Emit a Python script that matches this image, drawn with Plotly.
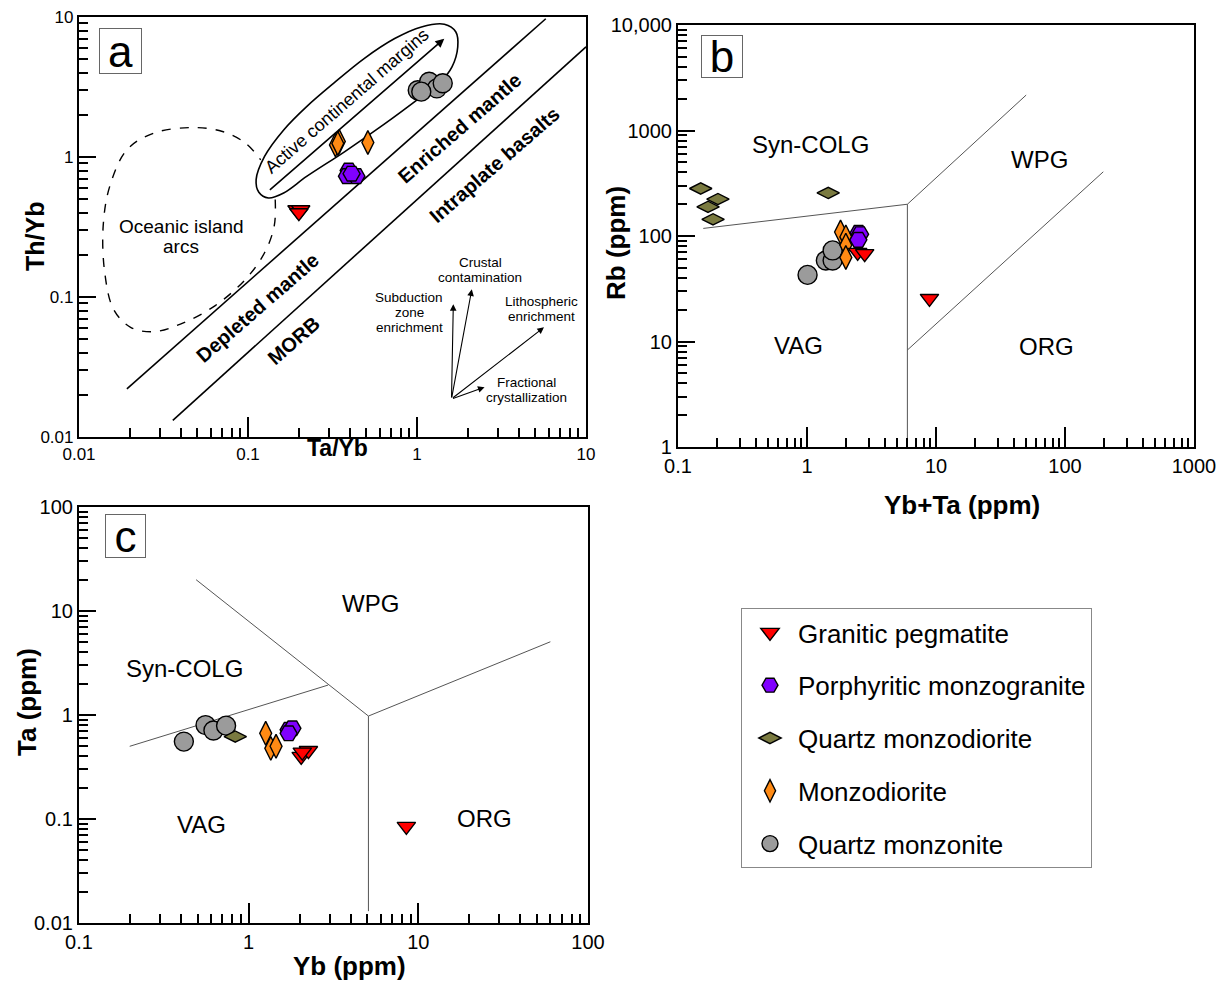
import numpy as np
import plotly.graph_objects as go

W, H = 1224, 989
OX, OY = 8, 8  # page body margin offset of the rendered figure
FONT = "Liberation Sans, Arial, sans-serif"

# ---------------- categories / styles ----------------
groups = ["Granitic pegmatite", "Porphyritic monzogranite", "Quartz monzodiorite",
          "Monzodiorite", "Quartz monzonite"]
colors = ["#FF0000", "#8000FF", "#7A7A40", "#FF8A14", "#9B9B9B"]
symbols = ["triangle-down", "hexagon2", "diamond-wide", "diamond-tall", "circle"]
sizes = [16, 17, 16, 17, 19]

# ---------------- panel a : Ta/Yb vs Th/Yb ----------------
a_tayb_pegmatite = [0.195, 0.205, 0.200]
a_thyb_pegmatite = [0.42, 0.42, 0.40]
a_tayb_porphyritic = [0.394, 0.385, 0.438, 0.41]
a_thyb_porphyritic = [0.80, 0.73, 0.73, 0.76]
a_tayb_qmonzodiorite = []
a_thyb_qmonzodiorite = []
a_tayb_monzodiorite = [0.329, 0.347, 0.512, 0.34]
a_thyb_monzodiorite = [1.22, 1.29, 1.27, 1.25]
a_tayb_qmonzonite = [1.01, 1.18, 1.31, 1.42, 1.06]
a_thyb_qmonzonite = [3.0, 3.45, 3.09, 3.36, 2.93]

# MORB-OIB array boundaries
a_upper_x = [0.0192, 5.78]
a_upper_y = [0.0221, 9.72]
a_lower_x = [0.0359, 10.0]
a_lower_y = [0.01315, 6.12]
# oceanic island arc field (dashed)
a_oia_x = [0.1449, 0.1429, 0.1253, 0.0966, 0.0637, 0.0398, 0.0276, 0.0202, 0.0160,
           0.0142, 0.0139, 0.0152, 0.0192, 0.0276, 0.0466, 0.0706, 0.0966, 0.1189]
a_oia_y = [0.4966, 0.3206, 0.2070, 0.1337, 0.0865, 0.0640, 0.0565, 0.0607, 0.0818,
           0.1493, 0.3206, 0.6166, 1.125, 1.479, 1.622, 1.521, 1.256, 0.955]
# active continental margin field
a_acm_x = [0.1117, 0.1253, 0.1626, 0.2223, 0.3206, 0.4864, 0.7379, 1.062, 1.452, 1.698,
           1.742, 1.611, 1.377, 1.062, 0.631, 0.374, 0.2223, 0.1626, 0.1321, 0.1159, 0.1117]
a_acm_y = [0.6887, 1.009, 1.560, 2.291, 3.357, 5.047, 7.015, 8.492, 8.872, 7.816,
           6.109, 4.406, 3.443, 2.698, 1.694, 1.094, 0.7261, 0.5534, 0.5093, 0.5598, 0.6887]
a_acm_arrow_x = [0.132, 1.45]
a_acm_arrow_y = [0.569, 7.0]
# process vectors
vec_origin = (1.6, 0.0187)
vec_names = [["Subduction", "zone", "enrichment"], ["Crustal", "contamination"],
             ["Lithospheric", "enrichment"], ["Fractional", "crystallization"]]
vec_head_x = [1.64, 2.11, 5.64, 2.51]
vec_head_y = [0.0889, 0.1135, 0.0607, 0.0227]
vec_label_x = [0.90, 2.36, 5.43, 4.46]
vec_label_y = [0.0774, 0.156, 0.0818, 0.0218]

# ---------------- panel b : Yb+Ta vs Rb ----------------
b_ybta_pegmatite = [2.47, 2.8, 8.9]
b_rb_pegmatite = [70, 68, 25.6]
b_ybta_porphyritic = [2.51, 2.58, 2.5]
b_rb_porphyritic = [107, 104, 92]
b_ybta_qmonzodiorite = [0.15, 0.204, 0.171, 0.187, 1.46]
b_rb_qmonzodiorite = [282, 224, 189, 144, 256]
b_ybta_monzodiorite = [1.82, 2.0, 2.0, 2.0]
b_rb_monzodiorite = [109, 98, 82, 62.5]
b_ybta_qmonzonite = [1.01, 1.40, 1.58, 1.58]
b_rb_qmonzonite = [42.8, 58.5, 58.5, 73]

b_bounds = [
    ([0.157, 6.0], [118, 200]),
    ([6.0, 6.0], [200, 1.0]),
    ([6.0, 50.0], [200, 2168]),
    ([6.0, 198.0], [8.3, 406]),
]

# ---------------- panel c : Yb vs Ta ----------------
c_yb_pegmatite = [2.04, 2.25, 2.07, 8.5]
c_ta_pegmatite = [0.40, 0.455, 0.44, 0.085]
c_yb_porphyritic = [1.72, 1.81, 1.72]
c_ta_porphyritic = [0.72, 0.745, 0.667]
c_yb_qmonzodiorite = [0.834]
c_ta_qmonzodiorite = [0.62]
c_yb_monzodiorite = [1.26, 1.35, 1.45]
c_ta_monzodiorite = [0.667, 0.478, 0.50]
c_yb_qmonzonite = [0.415, 0.557, 0.62, 0.736]
c_ta_qmonzonite = [0.555, 0.80, 0.71, 0.79]

c_bounds = [
    ([0.199, 2.94], [0.50, 1.94]),
    ([0.49, 5.08], [20, 0.977]),
    ([5.08, 60.0], [0.977, 5.06]),
    ([5.08, 5.08], [0.977, 0.013]),
]

# ---------------- build figure ----------------
fig = go.Figure()

panel_a = [(a_tayb_pegmatite, a_thyb_pegmatite), (a_tayb_porphyritic, a_thyb_porphyritic),
           (a_tayb_qmonzodiorite, a_thyb_qmonzodiorite), (a_tayb_monzodiorite, a_thyb_monzodiorite),
           (a_tayb_qmonzonite, a_thyb_qmonzonite)]
panel_b = [(b_ybta_pegmatite, b_rb_pegmatite), (b_ybta_porphyritic, b_rb_porphyritic),
           (b_ybta_qmonzodiorite, b_rb_qmonzodiorite), (b_ybta_monzodiorite, b_rb_monzodiorite),
           (b_ybta_qmonzonite, b_rb_qmonzonite)]
panel_c = [(c_yb_pegmatite, c_ta_pegmatite), (c_yb_porphyritic, c_ta_porphyritic),
           (c_yb_qmonzodiorite, c_ta_qmonzodiorite), (c_yb_monzodiorite, c_ta_monzodiorite),
           (c_yb_qmonzonite, c_ta_qmonzonite)]

line_a = dict(color="black", width=1.6)
line_bc = dict(color="#555555", width=1)

# panel a lines
fig.add_trace(go.Scatter(x=a_upper_x, y=a_upper_y, mode="lines", line=line_a,
                         showlegend=False, hoverinfo="skip", xaxis="x", yaxis="y"))
fig.add_trace(go.Scatter(x=a_lower_x, y=a_lower_y, mode="lines", line=line_a,
                         showlegend=False, hoverinfo="skip", xaxis="x", yaxis="y"))
fig.add_trace(go.Scatter(x=a_oia_x, y=a_oia_y, mode="lines",
                         line=dict(color="black", width=1.4, dash="dash", shape="spline"),
                         showlegend=False, hoverinfo="skip", xaxis="x", yaxis="y"))
fig.add_trace(go.Scatter(x=a_acm_x, y=a_acm_y, mode="lines",
                         line=dict(color="black", width=1.6, shape="spline", smoothing=1.0),
                         showlegend=False, hoverinfo="skip", xaxis="x", yaxis="y"))

for xs, ys in b_bounds:
    fig.add_trace(go.Scatter(x=xs, y=ys, mode="lines", line=line_bc, showlegend=False,
                             hoverinfo="skip", xaxis="x2", yaxis="y2"))
for xs, ys in c_bounds:
    fig.add_trace(go.Scatter(x=xs, y=ys, mode="lines", line=line_bc, showlegend=False,
                             hoverinfo="skip", xaxis="x3", yaxis="y3"))

# draw order: circles first, then diamonds, hexagons, triangles on top
order = [4, 2, 3, 1, 0]
for (panel, xa, ya, leg) in [(panel_a, "x", "y", False), (panel_b, "x2", "y2", False),
                             (panel_c, "x3", "y3", True)]:
    for i in order:
        xs, ys = panel[i]
        fig.add_trace(go.Scatter(
            x=xs, y=ys, mode="markers", name=groups[i],
            marker=dict(symbol=symbols[i], size=sizes[i], color=colors[i],
                        line=dict(color="black", width=1.4)),
            showlegend=leg, legendgroup=groups[i], legendrank=i + 1,
            xaxis=xa, yaxis=ya))


def px_x(p):
    return (p - OX) / W


def px_y(p):
    return 1 - (p - OY) / H


def dom_x(p0, p1):
    return [px_x(p0), px_x(p1)]


def dom_y(top, bottom):
    return [px_y(bottom), px_y(top)]


def minor_vals(lo, hi):
    return [m * 10.0 ** k for k in range(lo, hi) for m in range(2, 10)]


def log_axis(rng, vals, texts, dom, anchor, font_size, major_len):
    return dict(type="log", range=rng, domain=dom, anchor=anchor, automargin=False,
                tickmode="array", tickvals=vals, ticktext=texts,
                ticks="inside", ticklen=major_len, tickwidth=1.5, tickcolor="black",
                showline=True, linewidth=2.2, linecolor="black", mirror=True,
                showgrid=False, zeroline=False, ticklabeloverflow="allow",
                tickfont=dict(family=FONT, size=font_size, color="black"),
                minor=dict(tickmode="array", tickvals=minor_vals(rng[0], rng[1]),
                           ticks="inside", ticklen=9, tickwidth=1.5, tickcolor="black",
                           showgrid=False))


fig.update_layout(
    width=W, height=H,
    margin=dict(l=0, r=0, t=0, b=0, pad=0, autoexpand=False),
    paper_bgcolor="white", plot_bgcolor="white",
    font=dict(family=FONT, color="black"),
    xaxis=log_axis([-2, 1], [0.01, 0.1, 1, 10], ["0.01", "0.1", "1", "10"],
                   dom_x(79, 586), "y", 17, 20),
    yaxis=log_axis([-2, 1], [0.01, 0.1, 1, 10], ["0.01", "0.1", "1", "10"],
                   dom_y(17, 437), "x", 17, 17),
    xaxis2=log_axis([-1, 3], [0.1, 1, 10, 100, 1000], ["0.1", "1", "10", "100", "1000"],
                    dom_x(678, 1194), "y2", 20, 20),
    yaxis2=log_axis([0, 4], [1, 10, 100, 1000, 10000], ["1", "10", "100", "1000", "10,000"],
                    dom_y(25, 447), "x2", 20, 17),
    xaxis3=log_axis([-1, 2], [0.1, 1, 10, 100], ["0.1", "1", "10", "100"],
                    dom_x(79, 588), "y3", 20, 20),
    yaxis3=log_axis([-2, 2], [0.01, 0.1, 1, 10, 100], ["0.01", "0.1", "1", "10", "100"],
                    dom_y(507, 923), "x3", 20, 17),
    legend=dict(x=px_x(741), y=px_y(608), xanchor="left", yanchor="top",
                bgcolor="white", bordercolor="#888888", borderwidth=1,
                font=dict(family=FONT, size=26, color="black"),
                tracegroupgap=16, itemwidth=46),
    showlegend=True,
)

ann = []


def lg(v):
    return float(np.log10(v))


def text_ann(xa, ya, x, y, text, size, angle=0, bold=False, yshift=0):
    t = f"<b>{text}</b>" if bold else text
    ann.append(dict(xref=xa, yref=ya, x=lg(x), y=lg(y), text=t, showarrow=False,
                    xanchor="center", yanchor="middle", yshift=yshift,
                    textangle=angle, font=dict(family=FONT, size=size, color="black")))


def multiline_ann(xa, ya, x, y, lines, size, spacing):
    n = len(lines)
    for k, line in enumerate(lines):
        text_ann(xa, ya, x, y, line, size, yshift=((n - 1) / 2 - k) * spacing)


# panel a labels
multiline_ann("x", "y", 0.0403, 0.270, ["Oceanic island", "arcs"], 19, 20)
text_ann("x", "y", 0.385, 2.50, "Active continental margins", 18, angle=-41)
text_ann("x", "y", 0.113, 0.0841, "Depleted mantle", 20, angle=-41, bold=True)
text_ann("x", "y", 0.185, 0.0488, "MORB", 20, angle=-41, bold=True)
text_ann("x", "y", 1.79, 1.60, "Enriched mantle", 20, angle=-41, bold=True)
text_ann("x", "y", 2.86, 0.881, "Intraplate basalts", 20, angle=-41, bold=True)
for nm, lx, ly in zip(vec_names, vec_label_x, vec_label_y):
    multiline_ann("x", "y", lx, ly, nm, 13.5, 15)

# arrows in panel a
ann.append(dict(xref="x", yref="y", axref="x", ayref="y",
                x=lg(a_acm_arrow_x[1]), y=lg(a_acm_arrow_y[1]),
                ax=lg(a_acm_arrow_x[0]), ay=lg(a_acm_arrow_y[0]),
                text="", showarrow=True, arrowhead=2, arrowsize=1.1, arrowwidth=1.6,
                arrowcolor="black"))
for hx, hy in zip(vec_head_x, vec_head_y):
    ann.append(dict(xref="x", yref="y", axref="x", ayref="y",
                    x=lg(hx), y=lg(hy), ax=lg(vec_origin[0]), ay=lg(vec_origin[1]),
                    text="", showarrow=True, arrowhead=2, arrowsize=1.2, arrowwidth=1.1,
                    arrowcolor="black"))

# panel b labels
text_ann("x2", "y2", 1.07, 743, "Syn-COLG", 24)
text_ann("x2", "y2", 63.8, 532, "WPG", 24)
text_ann("x2", "y2", 0.863, 9.2, "VAG", 24)
text_ann("x2", "y2", 71.9, 8.87, "ORG", 24)

# panel c labels
text_ann("x3", "y3", 5.22, 11.8, "WPG", 24)
text_ann("x3", "y3", 0.419, 2.81, "Syn-COLG", 24)
text_ann("x3", "y3", 0.528, 0.088, "VAG", 24)
text_ann("x3", "y3", 24.5, 0.102, "ORG", 24)


# axis titles (paper coords)
def paper_ann(px, py, text, size, angle=0):
    ann.append(dict(xref="paper", yref="paper", x=px_x(px), y=px_y(py), text=text,
                    xanchor="center", yanchor="middle",
                    showarrow=False, textangle=angle,
                    font=dict(family=FONT, size=size, color="black")))


paper_ann(35, 237, "<b>Th/Yb</b>", 25, -90)
paper_ann(337, 448, "<b>Ta/Yb</b>", 23)
paper_ann(616, 243, "<b>Rb (ppm)</b>", 26, -90)
paper_ann(962, 505, "<b>Yb+Ta (ppm)</b>", 26)
paper_ann(27, 702, "<b>Ta (ppm)</b>", 26, -90)
paper_ann(349, 966, "<b>Yb (ppm)</b>", 26)

# panel letter boxes
for letter, (x0, y0, x1, y1) in [("a", (99, 28, 142, 74)), ("b", (701, 35, 743, 78)),
                                  ("c", (105, 514, 146, 558))]:
    ann.append(dict(xref="paper", yref="paper", x=px_x((x0 + x1) / 2), y=px_y((y0 + y1) / 2),
                    xanchor="center", yanchor="middle",
                    text=letter, showarrow=False, width=x1 - x0 - 2, height=y1 - y0 - 2,
                    borderpad=0, bordercolor="#666666", borderwidth=1, bgcolor="white",
                    font=dict(family=FONT, size=44, color="black")))

fig.update_layout(annotations=ann)
fig.write_html("out.html")
